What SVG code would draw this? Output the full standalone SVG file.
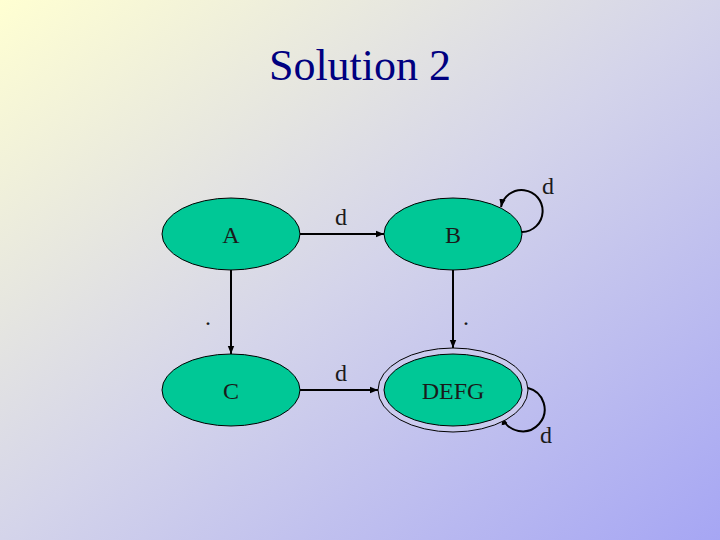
<svg xmlns="http://www.w3.org/2000/svg" width="720" height="540" viewBox="0 0 720 540">
<defs>
<linearGradient id="bg" x1="0" y1="0" x2="1" y2="1">
<stop offset="0" stop-color="#ffffd2"/>
<stop offset="0.5" stop-color="#d4d4ea"/>
<stop offset="1" stop-color="#a6a6f4"/>
</linearGradient>
<marker id="ah" viewBox="0 0 10 10" refX="10" refY="5" markerWidth="4" markerHeight="4" orient="auto" markerUnits="strokeWidth">
<path d="M0,1 L10,5 L0,9 z" fill="#000"/>
</marker>
<style>
.node{fill:#00c896;stroke:#000;stroke-width:1}
.lbl{font-size:24px;fill:#1a1a1a;text-anchor:middle}
.edge{fill:none;stroke:#000;stroke-width:2;marker-end:url(#ah)}
.title{font-size:44px;fill:#000080;text-anchor:middle}
</style>
</defs>
<rect width="720" height="540" fill="url(#bg)"/>
<g font-family="DejaVu Serif, Liberation Serif, serif">
<text class="title" x="360" y="80" font-family="Liberation Serif">Solution 2</text>
<g id="connectors">
<line class="edge" x1="300" y1="234" x2="384" y2="234"/>
<line class="edge" x1="300" y1="390" x2="378" y2="390"/>
<line class="edge" x1="231" y1="270" x2="231" y2="354"/>
<line class="edge" x1="453" y1="270" x2="453" y2="348"/>
<path class="edge" d="M522,232 A21,21 0 1 0 501,207"/>
<path class="edge" d="M528,388 A22,22 0 1 1 502,417"/>
<text class="lbl" x="341" y="225" font-family="Liberation Serif">d</text>
<text class="lbl" x="341" y="381" font-family="Liberation Serif">d</text>
<text class="lbl" x="208" y="325" font-family="Liberation Serif">.</text>
<text class="lbl" x="466" y="325" font-family="Liberation Serif">.</text>
<text class="lbl" x="548" y="194" font-family="Liberation Serif">d</text>
<text class="lbl" x="546" y="443" font-family="Liberation Serif">d</text>
</g>
<g id="A">
<ellipse class="node" cx="231" cy="234" rx="69" ry="36"/>
<text class="lbl" x="231" y="243" font-family="Liberation Serif">A</text>
</g>
<g id="B">
<ellipse class="node" cx="453" cy="234" rx="69" ry="36"/>
<text class="lbl" x="453" y="243" font-family="Liberation Serif">B</text>
</g>
<g id="C">
<ellipse class="node" cx="231" cy="390" rx="69" ry="36"/>
<text class="lbl" x="231" y="399" font-family="Liberation Serif">C</text>
</g>
<g id="DEFG">
<ellipse cx="453" cy="390" rx="75" ry="42" fill="#cbcbee" stroke="#000" stroke-width="1"/>
<ellipse class="node" cx="453" cy="390" rx="69" ry="36"/>
<text class="lbl" x="453" y="399" font-family="Liberation Serif">DEFG</text>
</g>
</g>
</svg>
